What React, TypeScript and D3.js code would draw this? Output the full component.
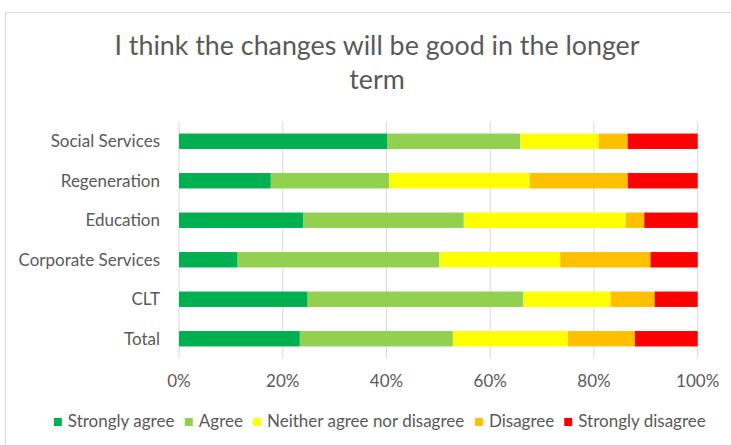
import React from 'react';
import * as d3 from 'd3';

const categories = ['Social Services', 'Regeneration', 'Education', 'Corporate Services', 'CLT', 'Total'];
const seriesNames = ['Strongly agree', 'Agree', 'Neither agree nor disagree', 'Disagree', 'Strongly disagree'];
const seriesColors = ['#00B050', '#92D050', '#FFFF00', '#FFC000', '#FF0000'];
const stronglyAgree = [40.2, 17.7, 24.0, 11.3, 24.8, 23.3];
const agree = [25.6, 22.8, 30.9, 38.9, 41.6, 29.5];
const neither = [15.1, 27.1, 31.2, 23.3, 16.8, 22.2];
const disagree = [5.6, 18.9, 3.6, 17.4, 8.5, 12.9];
const stronglyDisagree = [13.5, 13.5, 10.3, 9.1, 8.3, 12.1];
const xTicks = [0, 20, 40, 60, 80, 100];
const titleLines = ['I think the changes will be good in the longer', 'term'];

const W = 731;
const H = 445;
const FONT = 'Lato, "Open Sans", sans-serif';
const TEXT = '#595959';
const GRID = '#D9D9D9';
const LABEL_SIZE = 17;
const TITLE_SIZE = 26.8;

function measure(text: string, size: number): number {
  if (typeof document === 'undefined') return text.length * size * 0.5;
  const c = document.createElement('canvas').getContext('2d');
  if (!c) return text.length * size * 0.5;
  c.font = `${size}px Lato`;
  return c.measureText(text).width;
}

export default function App() {
  const seriesValues = [stronglyAgree, agree, neither, disagree, stronglyDisagree];
  const rows = categories.map((c, i) => {
    const r: Record<string, any> = { category: c };
    seriesNames.forEach((s, j) => (r[s] = seriesValues[j][i]));
    return r;
  });
  const stacked = d3.stack<any>().keys(seriesNames)(rows);

  const x = d3.scaleLinear().domain([0, 100]).range([179, 697.7]);
  const y = d3
    .scaleBand<string>()
    .domain(categories)
    .range([121.5, 358.5])
    .paddingInner(0.61)
    .paddingOuter(0.305);

  // legend layout
  const sq = 8;
  const gapSqText = 6;
  const gapItem = 10;
  const widths = seriesNames.map((s) => measure(s, LABEL_SIZE));
  const total = widths.reduce((a, w) => a + sq + gapSqText + w, 0) + gapItem * (seriesNames.length - 1);
  let cursor = 380 - total / 2;
  const legendItems = seriesNames.map((s, i) => {
    const start = cursor;
    cursor += sq + gapSqText + widths[i] + gapItem;
    return { name: s, color: seriesColors[i], x: start };
  });

  return (
    <svg
      width={W}
      height={H}
      style={{ position: 'absolute', left: 0, top: 0, background: '#fff' }}
      fontFamily={FONT}
    >
      <rect x={0} y={0} width={W} height={H} fill="#fff" />
      <rect x={5.5} y={12.5} width={800} height={500} fill="#fff" stroke={GRID} strokeWidth={1} />

      {titleLines.map((t, i) => (
        <text
          key={i}
          x={377}
          y={54.5 + i * 34.5}
          textAnchor="middle"
          fontSize={TITLE_SIZE}
          fill={TEXT}
        >
          {t}
        </text>
      ))}

      {xTicks.map((t) => (
        <line key={t} x1={x(t)} x2={x(t)} y1={121.5} y2={358.5} stroke={GRID} strokeWidth={1} />
      ))}

      {stacked.map((layer, si) => (
        <g key={layer.key} fill={seriesColors[si]}>
          {layer.map((d, i) => (
            <rect
              key={i}
              x={x(d[0])}
              y={y(categories[i])}
              width={x(d[1]) - x(d[0])}
              height={y.bandwidth()}
            />
          ))}
        </g>
      ))}

      {categories.map((c) => (
        <text
          key={c}
          x={160}
          y={(y(c) as number) + y.bandwidth() / 2}
          dy="0.35em"
          textAnchor="end"
          fontSize={LABEL_SIZE}
          fill={TEXT}
        >
          {c}
        </text>
      ))}

      {xTicks.map((t) => (
        <text key={t} x={x(t)} y={387} textAnchor="middle" fontSize={LABEL_SIZE} fill={TEXT}>
          {t + '%'}
        </text>
      ))}

      {legendItems.map((it) => (
        <g key={it.name}>
          <rect x={it.x} y={418} width={sq} height={sq} fill={it.color} />
          <text x={it.x + sq + gapSqText} y={426.5} fontSize={LABEL_SIZE} fill={TEXT}>
            {it.name}
          </text>
        </g>
      ))}
    </svg>
  );
}
